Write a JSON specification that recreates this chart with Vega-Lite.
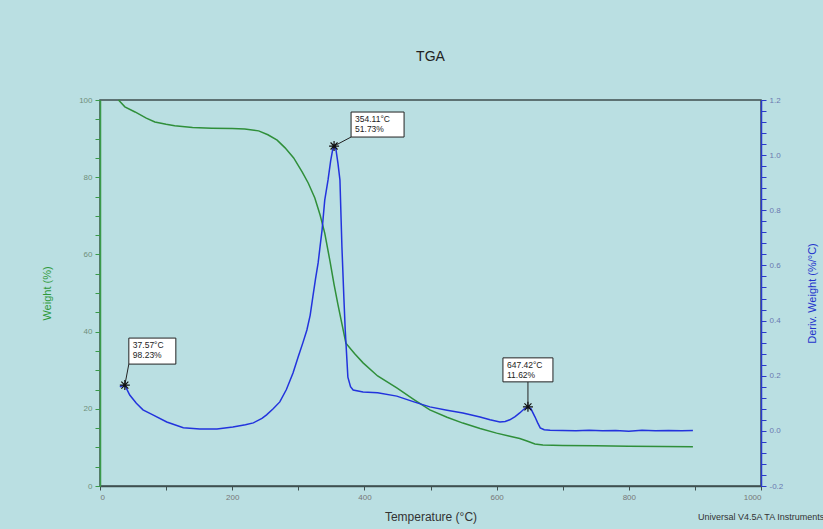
{
  "$schema": "https://vega.github.io/schema/vega-lite/v6.json",
  "autosize": {"type": "none"},
  "width": 661,
  "height": 386,
  "padding": {"left": 100, "top": 100, "right": 62, "bottom": 43},
  "background": "#badfe2",
  "title": {"text": "TGA", "fontSize": 14, "fontWeight": "normal", "font": "Liberation Sans", "color": "#222222", "offset": 32, "anchor": "middle"},
  "config": {
    "view": {"stroke": "#3f4f4f", "strokeWidth": 1.5},
    "font": "Liberation Sans"
  },
  "datasets": {
    "weight": [
      {"T": 28, "W": 100}, {"T": 37.6, "W": 98.23}, {"T": 53, "W": 96.9}, {"T": 70, "W": 95.3},
      {"T": 83, "W": 94.3}, {"T": 100, "W": 93.7}, {"T": 113, "W": 93.3}, {"T": 140, "W": 92.9},
      {"T": 169, "W": 92.7}, {"T": 200, "W": 92.6}, {"T": 219, "W": 92.5}, {"T": 240, "W": 92.0},
      {"T": 254, "W": 91.0}, {"T": 268, "W": 89.6}, {"T": 280, "W": 87.6}, {"T": 293, "W": 85.0},
      {"T": 306, "W": 81.3}, {"T": 315, "W": 78.5}, {"T": 325, "W": 74.6}, {"T": 333, "W": 70.2},
      {"T": 340, "W": 65.5}, {"T": 348, "W": 58.2}, {"T": 354, "W": 52.3}, {"T": 360, "W": 47.0},
      {"T": 366, "W": 42.0}, {"T": 372, "W": 37.0}, {"T": 385, "W": 34.3}, {"T": 398, "W": 31.9},
      {"T": 420, "W": 28.5}, {"T": 449, "W": 25.4}, {"T": 475, "W": 22.4}, {"T": 499, "W": 19.7},
      {"T": 525, "W": 17.8}, {"T": 549, "W": 16.3}, {"T": 575, "W": 14.9}, {"T": 600, "W": 13.7},
      {"T": 620, "W": 12.9}, {"T": 635, "W": 12.3}, {"T": 647, "W": 11.6}, {"T": 658, "W": 10.9},
      {"T": 670, "W": 10.6}, {"T": 700, "W": 10.5}, {"T": 750, "W": 10.4}, {"T": 800, "W": 10.3},
      {"T": 850, "W": 10.25}, {"T": 897, "W": 10.2}
    ],
    "deriv": [
      {"T": 30, "D": 0.16}, {"T": 37.57, "D": 0.166}, {"T": 45, "D": 0.13}, {"T": 55, "D": 0.1},
      {"T": 65, "D": 0.076}, {"T": 80, "D": 0.058}, {"T": 101, "D": 0.032}, {"T": 126, "D": 0.011},
      {"T": 151, "D": 0.007}, {"T": 177, "D": 0.007}, {"T": 201, "D": 0.014}, {"T": 220, "D": 0.022},
      {"T": 232, "D": 0.029}, {"T": 245, "D": 0.045}, {"T": 252, "D": 0.058}, {"T": 262, "D": 0.08},
      {"T": 272, "D": 0.105}, {"T": 282, "D": 0.15}, {"T": 292, "D": 0.21}, {"T": 300, "D": 0.27},
      {"T": 307, "D": 0.32}, {"T": 313, "D": 0.366}, {"T": 318, "D": 0.42}, {"T": 322, "D": 0.486},
      {"T": 326, "D": 0.55}, {"T": 330, "D": 0.609}, {"T": 333, "D": 0.67}, {"T": 336, "D": 0.729},
      {"T": 340, "D": 0.837}, {"T": 345, "D": 0.91}, {"T": 349, "D": 0.98}, {"T": 352, "D": 1.02},
      {"T": 354.11, "D": 1.033}, {"T": 357, "D": 1.02}, {"T": 360, "D": 0.97}, {"T": 363, "D": 0.91},
      {"T": 366, "D": 0.667}, {"T": 369, "D": 0.48}, {"T": 371, "D": 0.366}, {"T": 375, "D": 0.195},
      {"T": 379, "D": 0.16}, {"T": 383, "D": 0.148}, {"T": 398, "D": 0.141}, {"T": 420, "D": 0.138},
      {"T": 449, "D": 0.126}, {"T": 475, "D": 0.105}, {"T": 499, "D": 0.087}, {"T": 525, "D": 0.075},
      {"T": 549, "D": 0.065}, {"T": 575, "D": 0.05}, {"T": 590, "D": 0.04}, {"T": 605, "D": 0.032},
      {"T": 613, "D": 0.034}, {"T": 620, "D": 0.04}, {"T": 628, "D": 0.052}, {"T": 635, "D": 0.065},
      {"T": 642, "D": 0.08}, {"T": 647.42, "D": 0.087}, {"T": 652, "D": 0.08}, {"T": 658, "D": 0.051},
      {"T": 662, "D": 0.03}, {"T": 666, "D": 0.011}, {"T": 672, "D": 0.004}, {"T": 681, "D": 0.002},
      {"T": 700, "D": 0.001}, {"T": 720, "D": 0.0}, {"T": 740, "D": 0.002}, {"T": 760, "D": 0.0},
      {"T": 780, "D": 0.001}, {"T": 800, "D": -0.001}, {"T": 820, "D": 0.002}, {"T": 840, "D": 0.0},
      {"T": 860, "D": 0.001}, {"T": 880, "D": 0.0}, {"T": 897, "D": 0.001}
    ],
    "peaks": [
      {"id": "a", "T": 354.11, "D": 1.033, "label": "354.11°C\n51.73%"},
      {"id": "b", "T": 37.57, "D": 0.166, "label": "37.57°C\n98.23%"},
      {"id": "c", "T": 647.42, "D": 0.087, "label": "647.42°C\n11.62%"}
    ]
  },
  "layer": [
    {
      "data": {"name": "weight"},
      "mark": {"type": "line", "color": "#2f8f3a", "strokeWidth": 1.5},
      "encoding": {
        "x": {"field": "T", "type": "quantitative", "scale": {"domain": [0, 1000], "nice": false},
          "axis": {"title": "Temperature (°C)", "values": [0,50,100,150,200,250,300,350,400,450,500,550,600,650,700,750,800,850,900,950,1000],
            "labelExpr": "datum.value % 200 === 0 ? datum.label : ''", "format": "d",
            "domainColor": "#3f4f4f", "domainWidth": 1.5, "tickColor": "#3f4f4f", "tickSize": 4,
            "labelColor": "#777777", "labelFontSize": 8, "labelPadding": 3,
            "titleColor": "#333333", "titleFontSize": 12, "titleFontWeight": "normal", "titlePadding": 10, "grid": false}},
        "y": {"field": "W", "type": "quantitative", "scale": {"domain": [0, 100], "nice": false},
          "axis": {"title": "Weight (%)", "orient": "left", "values": [0,5,10,15,20,25,30,35,40,45,50,55,60,65,70,75,80,85,90,95,100],
            "labelExpr": "datum.value % 20 === 0 ? datum.label : ''",
            "domainColor": "#3a9a4a", "domainWidth": 1.5, "tickColor": "#3a9a4a", "tickSize": 5,
            "labelColor": "#6f8f7a", "labelFontSize": 8, "labelPadding": 3,
            "titleColor": "#2e9a3a", "titleFontSize": 11, "titleFontWeight": "normal", "titlePadding": 26, "grid": false}}
      }
    },
    {
      "encoding": {
        "x": {"field": "T", "type": "quantitative"},
        "y": {"field": "D", "type": "quantitative", "scale": {"domain": [-0.2, 1.2], "nice": false},
          "axis": {"title": "Deriv. Weight (%/°C)", "orient": "right",
            "values": [-0.2,-0.16,-0.12,-0.08,-0.04,0,0.04,0.08,0.12,0.16,0.2,0.24,0.28,0.32,0.36,0.4,0.44,0.48,0.52,0.56,0.6,0.64,0.68,0.72,0.76,0.8,0.84,0.88,0.92,0.96,1.0,1.04,1.08,1.12,1.16,1.2],
            "labelExpr": "abs(datum.value*5 - round(datum.value*5)) < 0.001 ? replace(format(datum.value, '.1f'), '−', '-') : ''",
            "domainColor": "#2a3acc", "domainWidth": 1.5, "tickColor": "#2a3acc", "tickSize": 5,
            "labelColor": "#6a78b0", "labelFontSize": 8, "labelPadding": 3,
            "titleColor": "#2233cc", "titleFontSize": 11, "titleFontWeight": "normal", "titleAngle": 270, "titlePadding": 35, "grid": false}}
      },
      "layer": [
        {
          "data": {"name": "deriv"},
          "mark": {"type": "line", "color": "#2233dd", "strokeWidth": 1.5}
        },
        {
          "data": {"name": "peaks"},
          "transform": [{"filter": "datum.id == 'a'"}],
          "mark": {"type": "rule", "color": "#222222", "strokeWidth": 1, "x2Offset": 17, "y2Offset": -9},
          "encoding": {"x2": {"field": "T"}, "y2": {"field": "D"}}
        },
        {
          "data": {"name": "peaks"},
          "transform": [{"filter": "datum.id == 'a'"}],
          "mark": {"type": "rect", "fill": "white", "stroke": "#222222", "strokeWidth": 1, "xOffset": 17, "x2Offset": 70, "yOffset": -34, "y2Offset": -9},
          "encoding": {"x2": {"field": "T"}, "y2": {"field": "D"}}
        },
        {
          "data": {"name": "peaks"},
          "transform": [{"filter": "datum.id == 'a'"}],
          "mark": {"type": "text", "align": "left", "baseline": "top", "dx": 21, "dy": -31, "lineBreak": "\n", "fontSize": 8.5, "lineHeight": 10, "color": "#222222"},
          "encoding": {"text": {"field": "label"}}
        },
        {
          "data": {"name": "peaks"},
          "transform": [{"filter": "datum.id == 'b'"}],
          "mark": {"type": "rule", "color": "#222222", "strokeWidth": 1, "x2Offset": 4, "y2Offset": -21},
          "encoding": {"x2": {"field": "T"}, "y2": {"field": "D"}}
        },
        {
          "data": {"name": "peaks"},
          "transform": [{"filter": "datum.id == 'b'"}],
          "mark": {"type": "rect", "fill": "white", "stroke": "#222222", "strokeWidth": 1, "xOffset": 4, "x2Offset": 51, "yOffset": -47, "y2Offset": -21},
          "encoding": {"x2": {"field": "T"}, "y2": {"field": "D"}}
        },
        {
          "data": {"name": "peaks"},
          "transform": [{"filter": "datum.id == 'b'"}],
          "mark": {"type": "text", "align": "left", "baseline": "top", "dx": 8, "dy": -44, "lineBreak": "\n", "fontSize": 8.5, "lineHeight": 10, "color": "#222222"},
          "encoding": {"text": {"field": "label"}}
        },
        {
          "data": {"name": "peaks"},
          "transform": [{"filter": "datum.id == 'c'"}],
          "mark": {"type": "rule", "color": "#222222", "strokeWidth": 1, "x2Offset": 0, "y2Offset": -25},
          "encoding": {"x2": {"field": "T"}, "y2": {"field": "D"}}
        },
        {
          "data": {"name": "peaks"},
          "transform": [{"filter": "datum.id == 'c'"}],
          "mark": {"type": "rect", "fill": "white", "stroke": "#222222", "strokeWidth": 1, "xOffset": -25, "x2Offset": 25, "yOffset": -49, "y2Offset": -25},
          "encoding": {"x2": {"field": "T"}, "y2": {"field": "D"}}
        },
        {
          "data": {"name": "peaks"},
          "transform": [{"filter": "datum.id == 'c'"}],
          "mark": {"type": "text", "align": "left", "baseline": "top", "dx": -21, "dy": -46, "lineBreak": "\n", "fontSize": 8.5, "lineHeight": 10, "color": "#222222"},
          "encoding": {"text": {"field": "label"}}
        },
        {
          "data": {"name": "peaks"},
          "mark": {"type": "point", "shape": "M-1,0H1M0,-1V1M-0.7,-0.7L0.7,0.7M-0.7,0.7L0.7,-0.7", "filled": false, "stroke": "#111111", "strokeWidth": 1.2, "size": 100, "opacity": 1}
        },
        {
          "data": {"name": "peaks"},
          "transform": [{"filter": "datum.id == 'c'"}],
          "mark": {"type": "text", "text": "Universal V4.5A TA Instruments", "align": "left", "baseline": "middle", "dx": -63, "dy": 31, "fontSize": 9, "color": "#333333"},
          "encoding": {"x": {"datum": 1000, "type": "quantitative"},
            "y": {"datum": -0.2, "type": "quantitative",
              "axis": {"title": "Deriv. Weight (%/°C)", "orient": "right",
                "values": [-0.2,-0.16,-0.12,-0.08,-0.04,0,0.04,0.08,0.12,0.16,0.2,0.24,0.28,0.32,0.36,0.4,0.44,0.48,0.52,0.56,0.6,0.64,0.68,0.72,0.76,0.8,0.84,0.88,0.92,0.96,1.0,1.04,1.08,1.12,1.16,1.2],
                "labelExpr": "abs(datum.value*5 - round(datum.value*5)) < 0.001 ? replace(format(datum.value, '.1f'), '−', '-') : ''",
                "domainColor": "#2a3acc", "domainWidth": 1.5, "tickColor": "#2a3acc", "tickSize": 5,
                "labelColor": "#6a78b0", "labelFontSize": 8, "labelPadding": 3,
                "titleColor": "#2233cc", "titleFontSize": 11, "titleFontWeight": "normal", "titleAngle": 270, "titlePadding": 35, "grid": false}}}
        }
      ]
    }
  ],
  "resolve": {"scale": {"y": "independent"}}
}
